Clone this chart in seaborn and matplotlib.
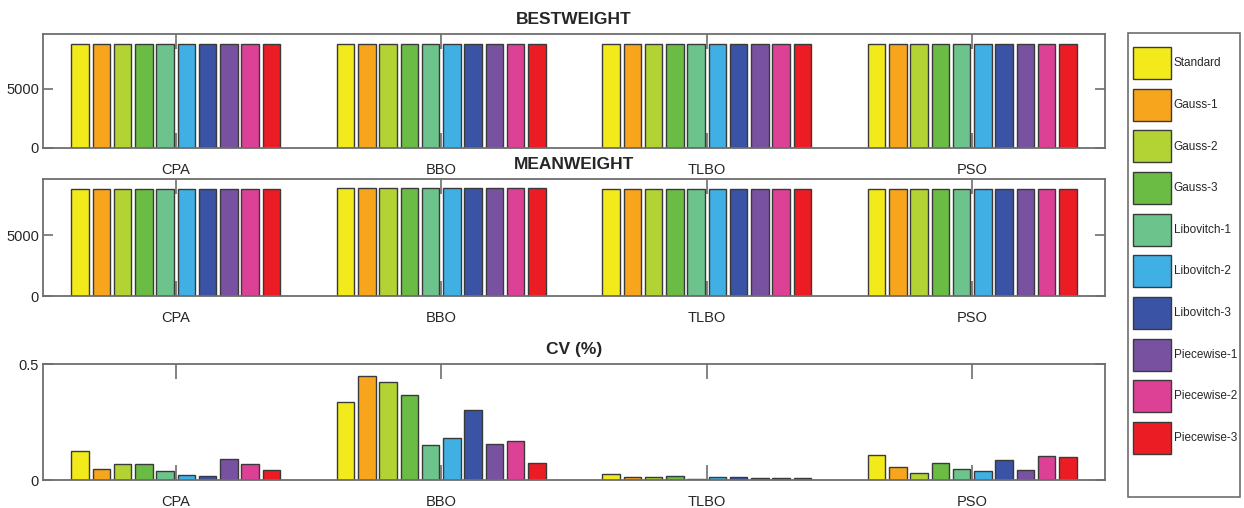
import pandas as pd
import matplotlib.pyplot as plt
import seaborn as sns

# categories and series
algorithms = ['CPA', 'BBO', 'TLBO', 'PSO']
variants = ['Standard', 'Gauss-1', 'Gauss-2', 'Gauss-3', 'Libovitch-1',
            'Libovitch-2', 'Libovitch-3', 'Piecewise-1', 'Piecewise-2', 'Piecewise-3']
colors = ['#F2EA1A', '#F7A51C', '#B3D334', '#6BBC45', '#6CC38C',
          '#40B0E4', '#3A53A4', '#7851A1', '#DC4195', '#EC1C24']

# best weight per algorithm (one value per variant)
best_cpa = [8790, 8790, 8790, 8790, 8790, 8790, 8790, 8790, 8790, 8790]
best_bbo = [8795, 8795, 8795, 8795, 8795, 8795, 8795, 8795, 8795, 8795]
best_tlbo = [8790, 8790, 8790, 8790, 8790, 8790, 8790, 8790, 8790, 8790]
best_pso = [8792, 8792, 8792, 8792, 8792, 8792, 8792, 8792, 8792, 8792]

# mean weight per algorithm
mean_cpa = [8810, 8800, 8800, 8800, 8800, 8795, 8795, 8805, 8800, 8800]
mean_bbo = [8890, 8900, 8880, 8870, 8860, 8870, 8880, 8860, 8860, 8830]
mean_tlbo = [8792, 8791, 8791, 8792, 8790, 8791, 8791, 8790, 8790, 8790]
mean_pso = [8815, 8805, 8800, 8810, 8805, 8800, 8810, 8800, 8815, 8812]

# coefficient of variation (%)
cv_cpa = [0.126, 0.047, 0.069, 0.068, 0.040, 0.020, 0.016, 0.090, 0.068, 0.042]
cv_bbo = [0.337, 0.447, 0.421, 0.365, 0.152, 0.182, 0.300, 0.155, 0.168, 0.073]
cv_tlbo = [0.027, 0.013, 0.012, 0.017, 0.003, 0.015, 0.011, 0.007, 0.007, 0.009]
cv_pso = [0.106, 0.055, 0.032, 0.072, 0.047, 0.037, 0.086, 0.043, 0.105, 0.098]

panels = [
    ('BESTWEIGHT', [best_cpa, best_bbo, best_tlbo, best_pso], 9650, [0, 5000]),
    ('MEANWEIGHT', [mean_cpa, mean_bbo, mean_tlbo, mean_pso], 9600, [0, 5000]),
    ('CV (%)', [cv_cpa, cv_bbo, cv_tlbo, cv_pso], 0.5, [0, 0.5]),
]

sns.set_style('white')
plt.rcParams['font.family'] = ['Liberation Sans', 'DejaVu Sans']

fig = plt.figure(figsize=(12.44, 5.08), dpi=100)
W, H = 1244, 508
left, right = 43, 1105
boxes = [(34, 148), (179, 296), (364, 480)]
axis_col = '#6e6e6e'

for (title, groups, ymax, yticks), (top, bottom) in zip(panels, boxes):
    ax = fig.add_axes([left / W, 1 - bottom / H, (right - left) / W, (bottom - top) / H])
    rows = []
    for alg, vals in zip(algorithms, groups):
        for var, v in zip(variants, vals):
            rows.append({'algorithm': alg, 'variant': var, 'value': v})
    df = pd.DataFrame(rows)
    sns.barplot(data=df, x='algorithm', y='value', hue='variant',
                order=algorithms, hue_order=variants, palette=colors,
                width=0.8, gap=0.18, edgecolor='#3a3a3a', linewidth=1.0,
                saturation=1, legend=False, ax=ax)
    ax.set_xlim(-0.5, 3.5)
    ax.set_ylim(0, ymax)
    ax.set_yticks(yticks)
    ax.set_yticklabels(['0', '0.5'] if ymax < 1 else ['0', '5000'])
    ax.set_xlabel('')
    ax.set_ylabel('')
    ax.set_title(title, fontsize=12.5, fontweight='bold', pad=7)
    ax.tick_params(axis='x', direction='in', length=11, width=1.2, color=axis_col,
                   top=True, bottom=True, labelsize=10.5, pad=11)
    ax.tick_params(axis='y', direction='in', length=7, width=1.2, color=axis_col,
                   left=True, right=True, labelsize=10.5, pad=3)
    for s in ax.spines.values():
        s.set_color(axis_col)
        s.set_linewidth(1.3)

handles = [plt.Rectangle((0, 0), 1, 1, facecolor=c, edgecolor='#3a3a3a', linewidth=1)
           for c in colors]
leg = fig.legend(handles, variants, loc='upper left',
                 bbox_to_anchor=(1133 / W, 1 - 47 / H), fontsize=8.5,
                 handlelength=3.2, handleheight=3.79, labelspacing=0.82,
                 handletextpad=0.25, borderpad=0, borderaxespad=0,
                 frameon=False)

# legend box as drawn in the reference (taller than the entries)
frame = plt.Rectangle((1128 / W, 1 - 497 / H), 112 / W, 464 / H,
                      transform=fig.transFigure, fill=False,
                      edgecolor=axis_col, linewidth=1.2)
fig.patches.append(frame)

fig.savefig('out.png', dpi=100)
